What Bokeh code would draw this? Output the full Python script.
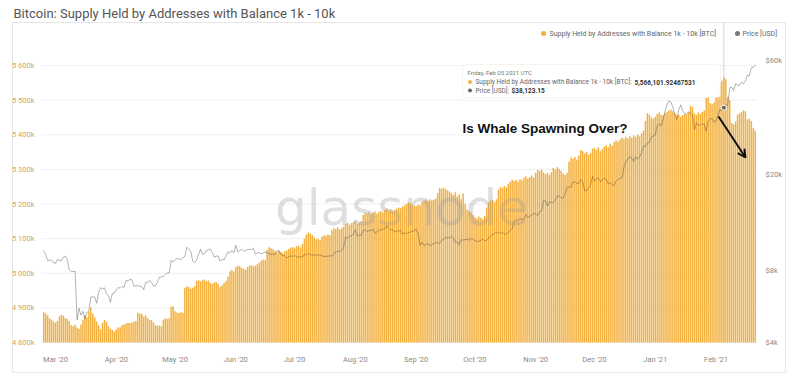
import calendar
import datetime as dt
import math

from bokeh.plotting import figure
from bokeh.models import (Range1d, LogScale, LogAxis, FixedTicker, CustomJSTickFormatter,
                          DatetimeTickFormatter, ColumnDataSource, Label,
                          BoxAnnotation, Arrow, OpenHead)
from bokeh.embed import file_html
from bokeh.resources import INLINE

# ---------------------------------------------------------------- texts
TITLE = "Bitcoin: Supply Held by Addresses with Balance 1k - 10k"
SERIES_SUPPLY = "Supply Held by Addresses with Balance 1k - 10k [BTC]"
SERIES_PRICE = "Price [USD]"
CALLOUT = "Is Whale Spawning Over?"
WATERMARK = "glassnode"

# ---------------------------------------------------------------- data (daily)
FIRST_DAY = dt.date(2020, 2, 24)
MONTHS = [(2020, 2), (2020, 3), (2020, 4), (2020, 5), (2020, 6), (2020, 7), (2020, 8),
          (2020, 9), (2020, 10), (2020, 11), (2020, 12), (2021, 1), (2021, 2)]

# supply held by 1k-10k BTC addresses, in thousands of BTC
supply_feb20 = [4888, 4884, 4879, 4870, 4866, 4860]
supply_mar20 = [4857, 4862, 4876, 4880, 4877, 4871, 4868, 4862, 4850, 4848, 4851, 4843, 4840,
                4852, 4866, 4878, 4872, 4889, 4902, 4884, 4872, 4861, 4850, 4838, 4857, 4865,
                4860, 4848, 4840, 4836, 4832]
supply_apr20 = [4838, 4844, 4843, 4850, 4852, 4855, 4857, 4856, 4858, 4860, 4862, 4886, 4884,
                4883, 4875, 4878, 4870, 4866, 4864, 4858, 4850, 4848, 4849, 4847, 4866, 4870,
                4868, 4870, 4903, 4905]
supply_may20 = [4890, 4887, 4885, 4888, 4886, 4958, 4962, 4960, 4955, 4958, 4963, 4978, 4980,
                4976, 4980, 4982, 4977, 4979, 4972, 4968, 4973, 4975, 4970, 4960, 4965, 4972,
                4978, 4990, 5005, 5010, 5005]
supply_jun20 = [5018, 5022, 5020, 5015, 5012, 5010, 5018, 5022, 5024, 5020, 5022, 5026, 5030,
                5036, 5040, 5038, 5068, 5075, 5072, 5070, 5064, 5060, 5066, 5062, 5058, 5064,
                5066, 5070, 5074, 5076]
supply_jul20 = [5072, 5078, 5080, 5075, 5085, 5100, 5112, 5118, 5115, 5110, 5104, 5098, 5100,
                5096, 5106, 5110, 5108, 5112, 5110, 5124, 5130, 5128, 5132, 5126, 5130, 5135,
                5142, 5146, 5140, 5145, 5148]
supply_aug20 = [5150, 5142, 5146, 5150, 5168, 5174, 5172, 5176, 5170, 5175, 5178, 5172, 5177,
                5180, 5176, 5183, 5186, 5180, 5184, 5178, 5182, 5186, 5190, 5188, 5192, 5196,
                5200, 5204, 5202, 5198, 5196]
supply_sep20 = [5194, 5198, 5196, 5206, 5210, 5212, 5208, 5214, 5210, 5212, 5216, 5232, 5246,
                5244, 5248, 5243, 5240, 5236, 5232, 5226, 5234, 5222, 5228, 5214, 5230, 5200,
                5184, 5180, 5176, 5168]
supply_oct20 = [5162, 5158, 5164, 5160, 5156, 5166, 5190, 5204, 5210, 5212, 5206, 5214, 5242,
                5250, 5246, 5252, 5248, 5258, 5264, 5270, 5266, 5270, 5264, 5272, 5268, 5276,
                5280, 5274, 5278, 5282, 5276]
supply_nov20 = [5290, 5298, 5295, 5300, 5292, 5286, 5290, 5284, 5292, 5304, 5300, 5306, 5302,
                5296, 5288, 5284, 5290, 5322, 5334, 5330, 5336, 5328, 5340, 5356, 5352, 5346,
                5350, 5342, 5348, 5360]
supply_dec20 = [5362, 5356, 5364, 5352, 5358, 5366, 5370, 5364, 5374, 5368, 5378, 5384, 5380,
                5386, 5392, 5388, 5394, 5390, 5396, 5392, 5398, 5394, 5400, 5396, 5404, 5412,
                5440, 5462, 5458, 5450, 5446]
supply_jan21 = [5452, 5460, 5464, 5458, 5456, 5462, 5466, 5470, 5472, 5468, 5462, 5456, 5458,
                5452, 5456, 5460, 5458, 5464, 5484, 5480, 5462, 5458, 5464, 5460, 5466, 5470,
                5506, 5508, 5492, 5488, 5494]
supply_feb21 = [5530, 5540, 5548, 5556, 5566.10192467531, 5560, 5510, 5500, 5434, 5430, 5438,
                5458, 5462, 5466, 5470, 5468, 5444, 5446, 5440, 5420, 5412]

# BTC price, USD
price_feb20 = [9663, 9316, 8785, 8826, 8808, 8600]
price_mar20 = [8560, 8870, 8790, 8760, 9080, 9150, 8900, 8040, 7920, 7910, 7910, 4970, 5560,
               5200, 5390, 5010, 5330, 5410, 6190, 6200, 6190, 5830, 6480, 6770, 6690, 6760,
               6380, 6260, 5880, 6390, 6440]
price_apr20 = [6640, 6790, 6730, 6860, 6790, 7270, 7190, 7360, 7300, 6870, 6880, 6910, 6860,
               6840, 6640, 7120, 7100, 7260, 7120, 6880, 6880, 7120, 7480, 7510, 7540, 7680,
               7790, 7800, 8800, 8660]
price_may20 = [8860, 8990, 8910, 8880, 9030, 9150, 9990, 9810, 9590, 8750, 8600, 8820, 9320,
               9800, 9320, 9380, 9680, 9730, 9790, 9510, 9060, 9170, 9180, 8720, 8900, 8840,
               9200, 9580, 9430, 9700, 9460]
price_jun20 = [10170, 9520, 9670, 9790, 9620, 9670, 9760, 9780, 9770, 9880, 9320, 9470, 9480,
               9390, 9430, 9530, 9460, 9390, 9310, 9360, 9300, 9650, 9630, 9300, 9250, 9160,
               9000, 9120, 9190, 9140]
price_jul20 = [9230, 9090, 9070, 9130, 9080, 9340, 9250, 9440, 9240, 9290, 9240, 9300, 9240,
               9250, 9190, 9130, 9150, 9160, 9190, 9160, 9390, 9540, 9610, 9550, 9710, 9930,
               11030, 10910, 11100, 11110, 11350]
price_aug20 = [11800, 11070, 11230, 11190, 11740, 11770, 11600, 11750, 11680, 11880, 11410,
               11580, 11780, 11770, 11860, 11910, 12250, 11990, 11760, 11860, 11530, 11680,
               11650, 11750, 11330, 11460, 11320, 11540, 11500, 11680, 11650]
price_sep20 = [11920, 11390, 10170, 10480, 10170, 10250, 10370, 10130, 10230, 10340, 10390,
               10440, 10330, 10680, 10790, 10950, 10940, 10930, 11080, 10920, 10420, 10530,
               10240, 10740, 10690, 10730, 10770, 10690, 10840, 10780]
price_oct20 = [10620, 10570, 10550, 10670, 10790, 10600, 10670, 10920, 11060, 11300, 11380,
               11550, 11430, 11430, 11500, 11320, 11370, 11500, 11750, 11920, 12820, 12970,
               12930, 13120, 13030, 13070, 13650, 13270, 13460, 13560, 13800]
price_nov20 = [13740, 13550, 14030, 14150, 15590, 15580, 14830, 15480, 15330, 15300, 15700,
               16280, 16320, 16070, 15960, 16730, 17660, 17800, 17820, 18680, 18700, 18420,
               18370, 19160, 18720, 17150, 17140, 17720, 18180, 19700]
price_dec20 = [18800, 19220, 19450, 18700, 19150, 19360, 19170, 18320, 18550, 18250, 18040,
               18800, 19170, 19270, 19440, 21380, 22800, 23140, 23870, 23480, 22740, 23780,
               23240, 23730, 24710, 26440, 26280, 27040, 27360, 28840, 29000]
price_jan21 = [29370, 32130, 32780, 31970, 33990, 36820, 39370, 40670, 40240, 38240, 35540,
               34010, 37390, 39160, 36830, 36070, 35790, 36630, 36070, 35550, 30830, 33010,
               32090, 32300, 32570, 32480, 30410, 33470, 34320, 34300, 33110]
price_feb21 = [33540, 35510, 37470, 36930, 38123.15, 39270, 38880, 46200, 46480, 44920, 47970,
               47440, 47190, 48680, 47940, 49200, 52150, 51680, 55890, 56100, 57540]

SUPPLY_MONTHS = [supply_feb20, supply_mar20, supply_apr20, supply_may20, supply_jun20,
                 supply_jul20, supply_aug20, supply_sep20, supply_oct20, supply_nov20,
                 supply_dec20, supply_jan21, supply_feb21]
PRICE_MONTHS = [price_feb20, price_mar20, price_apr20, price_may20, price_jun20, price_jul20,
                price_aug20, price_sep20, price_oct20, price_nov20, price_dec20, price_jan21,
                price_feb21]

LEFT_TICKS_K = [4800, 4900, 5000, 5100, 5200, 5300, 5400, 5500, 5600]
RIGHT_TICKS_USD = [4000, 8000, 20000, 60000]
X_TICK_MONTHS = MONTHS[1:]          # labelled month starts: Mar '20 ... Feb '21
HIGHLIGHT_DAY = dt.date(2021, 2, 5)

# ---------------------------------------------------------------- assemble
dates, supply_k, price = [], [], []
for idx, ((yy, mm), s_list, p_list) in enumerate(zip(MONTHS, SUPPLY_MONTHS, PRICE_MONTHS)):
    assert len(s_list) == len(p_list), (yy, mm)
    d0 = FIRST_DAY.day if idx == 0 else 1
    if idx < len(MONTHS) - 1:
        assert d0 + len(s_list) - 1 == calendar.monthrange(yy, mm)[1], (yy, mm, len(s_list))
    for i, (s, pr) in enumerate(zip(s_list, p_list)):
        dates.append(dt.datetime(yy, mm, d0 + i))
        supply_k.append(s)
        price.append(pr)

src = ColumnDataSource(dict(date=dates, supply=supply_k, price=price))
hi = dates.index(dt.datetime(HIGHLIGHT_DAY.year, HIGHLIGHT_DAY.month, HIGHLIGHT_DAY.day))
x_ticks_ms = [calendar.timegm((yy, mm, 1, 0, 0, 0)) * 1000.0 for yy, mm in X_TICK_MONTHS]

# ---------------------------------------------------------------- layout (canvas px)
W, H = 792, 382
CL, CR, CT, CB = 12, 785, 22, 372           # card = plot frame
DL, DR, DB = 41, 757, 342                   # data area inside the card
PX_PER_DAY = 1.96
MAR1_PX = 55
MAR1 = dt.datetime(2020, 3, 1)


def px_to_date(px):
    return MAR1 + dt.timedelta(days=(px - MAR1_PX) / PX_PER_DAY)


PX_PER_K = 277 / 800.0
base_k = LEFT_TICKS_K[0]
y_lo = base_k - (CB - DB) / PX_PER_K
y_hi = base_k + (DB - CT) / PX_PER_K
PX_PER_DOUBLING = 72.2
base_usd = RIGHT_TICKS_USD[0]
p_lo = base_usd * 2 ** (-(CB - DB) / PX_PER_DOUBLING)
p_hi = base_usd * 2 ** ((DB - CT) / PX_PER_DOUBLING)

BAR = "#f3b03f"
FONT = "Roboto"

p = figure(width=W, height=H, x_axis_type="datetime",
           x_range=Range1d(px_to_date(CL), px_to_date(CR)), y_range=Range1d(y_lo, y_hi),
           output_backend="svg", toolbar_location=None,
           min_border_left=CL, min_border_right=W - CR, min_border_top=CT,
           min_border_bottom=H - CB)
p.outline_line_color = "#e6e6e6"
p.background_fill_color = "white"
p.border_fill_color = "white"

p.title.text = TITLE
p.title.text_font = FONT
p.title.text_font_size = "13px"
p.title.text_font_style = "normal"
p.title.text_color = "#555555"
p.title.vertical_align = "top"
p.title.standoff = 0
p.title.offset = 1

p.extra_y_ranges = {"price": Range1d(p_lo, p_hi)}
p.extra_y_scales = {"price": LogScale()}

# grid lines across the data area only
p.xgrid.grid_line_color = None
p.ygrid.grid_line_color = None
p.segment(x0=[px_to_date(DL)] * len(LEFT_TICKS_K), x1=[px_to_date(DR)] * len(LEFT_TICKS_K),
          y0=LEFT_TICKS_K, y1=LEFT_TICKS_K, line_color="#f0f0f0", line_width=1)

# crosshair at the highlighted day
p.segment(x0=[dates[hi]], x1=[dates[hi]], y0=[base_k], y1=[y_hi], line_color="#d2d2d2",
          line_width=1)

p.vbar(x="date", top="supply", bottom=base_k, width=0.76 * 86400000, source=src,
       fill_color=BAR, line_color=None)
p.line("date", "price", source=src, y_range_name="price", line_color="#3a3a3a",
       line_alpha=0.38, line_width=1)
p.scatter([dates[hi]], [price[hi]], y_range_name="price", size=5, fill_color="#666666",
          line_color="white", line_width=1)

# axes: drawn on the card, labels pulled inward with negative standoff
ya = p.yaxis[0]
ya.ticker = FixedTicker(ticks=LEFT_TICKS_K)
ya.formatter = CustomJSTickFormatter(code="""
    const k = Math.round(tick);
    return Math.floor(k / 1000) + ' ' + String(k % 1000).padStart(3, '0') + 'k';""")
ya.major_label_text_color = "#d4a55a"
ya.major_label_standoff = -(DL - 1 - CL)

ra = LogAxis(y_range_name="price", ticker=FixedTicker(ticks=RIGHT_TICKS_USD),
             formatter=CustomJSTickFormatter(code="return '$' + (tick / 1000) + 'k';"))
ra.major_label_text_color = "#8a8a8a"
ra.major_label_standoff = -(CR - DR - 2)
p.add_layout(ra, "right")

xa = p.xaxis[0]
xa.ticker = FixedTicker(ticks=x_ticks_ms)
xa.formatter = DatetimeTickFormatter(months="%b '%y", days="%b '%y")
xa.major_label_text_color = "#8a8a8a"
xa.major_label_standoff = -24

for ax in (ya, ra, xa):
    ax.axis_line_color = None
    ax.major_tick_line_color = None
    ax.minor_tick_line_color = None
    ax.major_label_text_font = FONT
    ax.major_label_text_font_size = "7.5px"


def lab(text, x, y, size, color, bold=False, align="left", baseline="middle",
        font=FONT, alpha=1.0):
    return Label(x=x, y=y, x_units="canvas", y_units="canvas", text=text,
                 text_font=font, text_font_size=size, text_color=color,
                 text_font_style="bold" if bold else "normal", text_align=align,
                 text_baseline=baseline, text_alpha=alpha)


def dot(cx, cy, r, color):
    return BoxAnnotation(left=cx - r, right=cx + r, top=cy - r, bottom=cy + r,
                         left_units="canvas", right_units="canvas", top_units="canvas",
                         bottom_units="canvas", fill_color=color, fill_alpha=1,
                         line_color=None, border_radius=int(math.ceil(r)))


# watermark
p.add_layout(lab(WATERMARK, 401, 207, "50px", "#9a9a9a", align="center",
                 baseline="alphabetic", font="DejaVu Sans", alpha=0.32))

# legend
p.add_layout(dot(543, 33, 2.5, BAR))
p.add_layout(lab(SERIES_SUPPLY, 549, 33, "7px", "#666666"))
p.add_layout(dot(737, 33, 2.5, "#777777"))
p.add_layout(lab(SERIES_PRICE, 742, 33, "7px", "#666666"))

# tooltip
p.add_layout(BoxAnnotation(left=462, right=720, top=64, bottom=97, left_units="canvas",
                           right_units="canvas", top_units="canvas", bottom_units="canvas",
                           fill_color="white", fill_alpha=0.95, line_color="#e6d6b8",
                           line_width=1, border_radius=3))
p.add_layout(lab(HIGHLIGHT_DAY.strftime("%A, %b %d %Y UTC"), 467, 72, "6px", "#777777"))
p.add_layout(dot(469.5, 81.5, 2, BAR))
p.add_layout(lab(SERIES_SUPPLY + ":", 475, 81.5, "6.5px", "#666666"))
p.add_layout(lab(f"{supply_k[hi] * 1000:,.8f}", 634, 81.5, "6.5px", "#333333", bold=True))
p.add_layout(dot(469.5, 90, 2, "#666666"))
p.add_layout(lab(SERIES_PRICE + ":", 475, 90, "6.5px", "#666666"))
p.add_layout(lab(f"${price[hi]:,.2f}", 511, 90, "6.5px", "#333333", bold=True))

# callout
p.add_layout(lab(CALLOUT, 462, 128, "13.5px", "#111111", bold=True,
                 baseline="alphabetic", font="Liberation Sans"))
p.add_layout(Arrow(x_start=718, y_start=116, x_end=745, y_end=157, start_units="canvas",
                   end_units="canvas", line_color="#111111", line_width=2,
                   end=OpenHead(size=8, line_width=2, line_color="#111111")))

open("out.html", "w").write(file_html(p, INLINE))
